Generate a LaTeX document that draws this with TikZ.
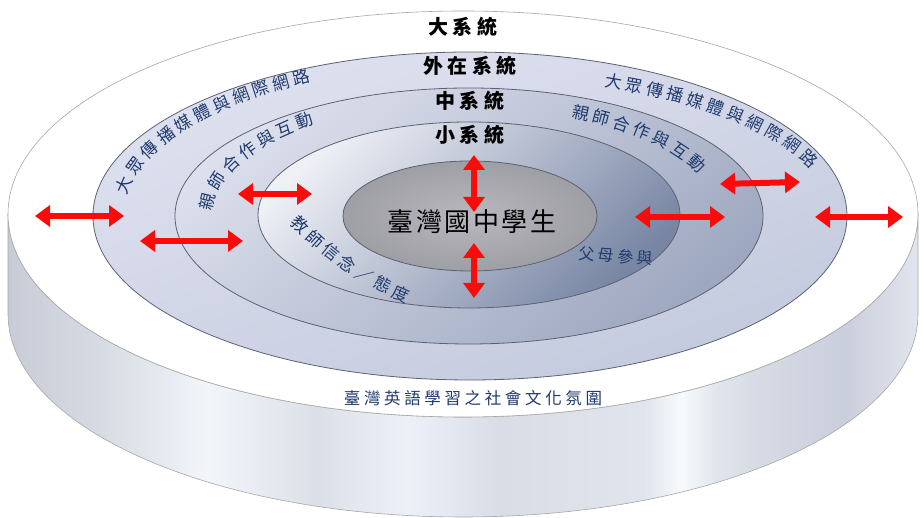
\documentclass[tikz,border=0pt]{standalone}
\usepackage{fontspec}
\newfontfamily\cjk{Noto Sans CJK TC}
\newfontfamily\cjkA[LetterSpace=22]{Noto Sans CJK TC}
\newfontfamily\cjkB[LetterSpace=10]{Noto Sans CJK TC}
\usetikzlibrary{arrows.meta,decorations.text}
\definecolor{navy}{HTML}{1F3A6E}
\definecolor{arrred}{HTML}{FF0A0A}
\definecolor{ringline}{HTML}{5D6270}
\pgfdeclarehorizontalshading{cylside}{100bp}{%
rgb(0bp)=(.78,.80,.84);
rgb(25bp)=(.78,.80,.84);
rgb(30bp)=(.84,.86,.89);
rgb(36bp)=(.95,.96,.98);
rgb(42bp)=(.86,.88,.91);
rgb(47bp)=(.93,.94,.97);
rgb(52bp)=(.85,.87,.90);
rgb(60bp)=(.88,.90,.93);
rgb(62bp)=(.97,.98,.99);
rgb(64bp)=(.88,.90,.93);
rgb(66bp)=(.84,.86,.90);
rgb(71bp)=(.79,.81,.86);
rgb(75bp)=(.88,.90,.93);
rgb(100bp)=(.88,.90,.93)}
\begin{document}
\begin{tikzpicture}[x=1pt,y=1pt,
  ring/.style={draw=ringline, line width=0.8pt},
  redarrow/.style={draw=arrred, line width=6pt,
    {Triangle[width=21pt,length=15pt]}-{Triangle[width=21pt,length=15pt]}},
  title/.style={font=\cjkA\bfseries\fontsize{20}{20}\selectfont, text=black, inner sep=0pt},
  bluetext/.style={text=navy, inner sep=0pt}]
\useasboundingbox (0,0) rectangle (923,518);
% cylinder side
\shade[shading=cylside, draw=gray!70, line width=0.6pt]
  (8,304) -- (8,204) arc[start angle=180, end angle=360, x radius=455, y radius=203]
  -- (918,304) arc[start angle=0, end angle=-180, x radius=455, y radius=203] -- cycle;
% top face
\filldraw[fill=white, draw=gray!70, line width=0.6pt] (463,304) ellipse [x radius=455, y radius=203];
% rings
\shade[ring, shading=axis, top color={rgb,255:red,222;green,225;blue,239}, bottom color={rgb,255:red,196;green,202;blue,222}, shading angle=20]
  (470,302) ellipse [x radius=377, y radius=164];
\shade[ring, shading=axis, top color={rgb,255:red,220;green,223;blue,236}, bottom color={rgb,255:red,158;green,168;blue,192}, shading angle=40]
  (469,302) ellipse [x radius=294, y radius=128];
\shade[ring, shading=axis, top color={rgb,255:red,238;green,240;blue,246}, bottom color={rgb,255:red,120;green,134;blue,164}, shading angle=45]
  (469,303) ellipse [x radius=211, y radius=93];
\shade[ring, inner color={rgb,255:red,184;green,184;blue,189}, outer color={rgb,255:red,158;green,158;blue,165}]
  (470,302) ellipse [x radius=127, y radius=55];
% titles
\node[title] (big) at (463,491) {大系統};
\node[title] (ext) at (470,452) {外在系統};
\node[title] (meso) at (470,417) {中系統};
\node[title] (micro) at (470,383) {小系統};
\node[font=\cjkB\fontsize{26}{26}\selectfont, text=black, inner sep=0pt] (stu) at (472,296) {臺灣國中學生};
\node[bluetext, font=\cjkA\fontsize{16.5}{16.5}\selectfont] (soc) at (473,120) {臺灣英語學習之社會文化氛圍};
\node[bluetext, font=\cjkA\fontsize{16}{16}\selectfont, rotate=-4] (par) at (616,262) {父母參與};
% curved texts
\path[decorate, decoration={text along path, text color=navy,
  text={|\cjk\fontsize{17}{17}\selectfont|大 眾 傳 播 媒 體 與 網 際 網 路}}]
  ({470+346*cos(172.4)},{302+151*sin(172.4)}) arc[start angle=172.4, end angle=95, x radius=346, y radius=151];
\path[decorate, decoration={text along path, text color=navy,
  text={|\cjk\fontsize{17}{17}\selectfont|大 眾 傳 播 媒 體 與 網 際 網 路}}]
  ({470+362*cos(68.2)},{302+139*sin(68.2)}) arc[start angle=68.2, end angle=0, x radius=362, y radius=139];
\path[decorate, decoration={text along path, text color=navy,
  text={|\cjk\fontsize{17}{17}\selectfont|親 師 合 作 與 互 動}}]
  ({470+258*cos(177.9)},{302+115*sin(177.9)}) arc[start angle=177.9, end angle=95, x radius=258, y radius=115];
\path[decorate, decoration={text along path, text color=navy,
  text={|\cjk\fontsize{17}{17}\selectfont|親 師 合 作 與 互 動}}]
  ({470+248*cos(65.9)},{302+108*sin(65.9)}) arc[start angle=65.9, end angle=-5, x radius=248, y radius=108];
\path[decorate, decoration={text along path, text color=navy,
  text={|\cjk\fontsize{17}{17}\selectfont|教 師 信 念 ／ 態 度}}]
  (290,294.5) to[bend right=12] (422,209);
% arrows
\coordinate (a1l) at (35,302);  \coordinate (a1r) at (124,302);
\coordinate (a2l) at (140,277); \coordinate (a2r) at (243,277);
\coordinate (a3l) at (238,324); \coordinate (a3r) at (312,324);
\coordinate (a4t) at (474,363); \coordinate (a4b) at (474,306);
\coordinate (a5t) at (474,275); \coordinate (a5b) at (474,220);
\coordinate (a6l) at (635,301); \coordinate (a6r) at (725,301);
\coordinate (a7l) at (720,334); \coordinate (a7r) at (800,336);
\coordinate (a8l) at (815,301); \coordinate (a8r) at (903,301);
\draw[redarrow] (a1l) -- (a1r);
\draw[redarrow] (a2l) -- (a2r);
\draw[redarrow] (a3l) -- (a3r);
\draw[redarrow] (a4t) -- (a4b);
\draw[redarrow] (a5t) -- (a5b);
\draw[redarrow] (a6l) -- (a6r);
\draw[redarrow] (a7l) -- (a7r);
\draw[redarrow] (a8l) -- (a8r);
\end{tikzpicture}
\end{document}
